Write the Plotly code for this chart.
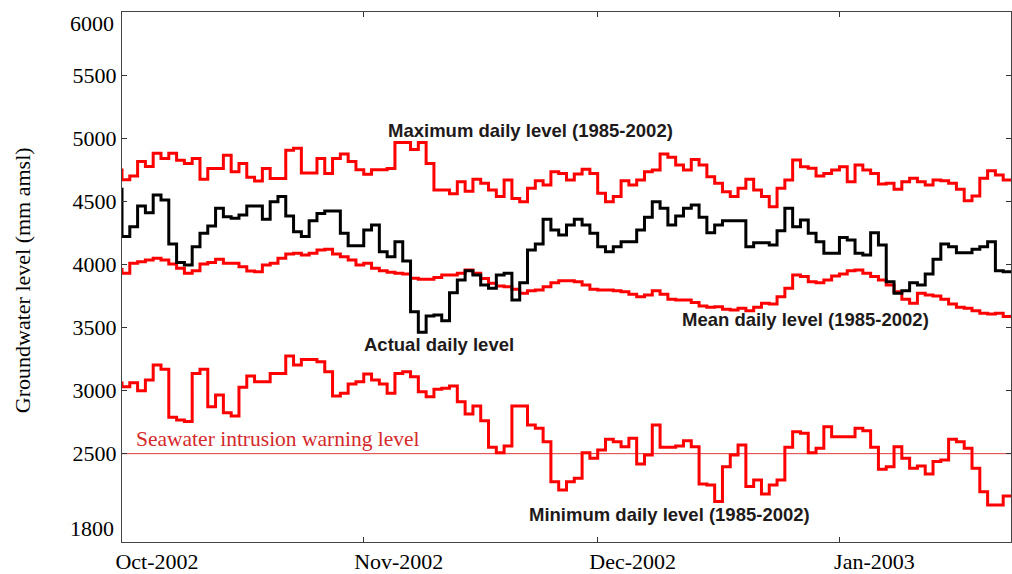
import pandas as pd
import plotly.graph_objects as go

# ---- data (daily values, first value = 30 Sep 2002) ----
start_date = "2002-09-30"
end_date = "2003-01-23"

max_level = [
    4748,
    4670, 4700, 4815, 4775, 4880, 4840, 4880, 4825, 4800, 4840,
    4675, 4760, 4760, 4865, 4735, 4800, 4690, 4660, 4760, 4680,
    4680, 4905, 4920, 4725, 4725, 4840, 4720, 4840, 4875, 4815,
    4750, 4715, 4750, 4750, 4760, 4965, 4965, 4910, 4965, 4800,
    4590, 4590, 4560, 4655, 4580, 4674, 4642, 4589, 4537, 4669,
    4523, 4497, 4603, 4663, 4629, 4735, 4721, 4669, 4716, 4753,
    4721, 4563, 4497, 4537, 4663, 4629, 4669, 4735, 4748, 4874,
    4848, 4787, 4748, 4832, 4787, 4695, 4642, 4576, 4537, 4603,
    4674, 4589, 4537, 4457, 4603, 4669, 4827, 4774, 4761, 4700,
    4721, 4748, 4774, 4655, 4787, 4748, 4721, 4637, 4642, 4595,
    4655, 4682, 4655, 4629, 4669, 4663, 4642, 4595, 4505, 4542,
    4682, 4742, 4708, 4669,
]

actual_level = [
    4595,
    4220, 4299, 4462, 4410, 4550, 4510, 4161, 4014, 3995, 4140,
    4246, 4304, 4444, 4378, 4365, 4391, 4462, 4462, 4357, 4497,
    4537, 4383, 4259, 4220, 4346, 4404, 4423, 4423, 4246, 4148,
    4148, 4272, 4312, 4101, 4061, 4180, 4027, 3625, 3462, 3591,
    3599, 3554, 3776, 3876, 3950, 3916, 3837, 3810, 3916, 3929,
    3718, 3855, 4114, 4162, 4357, 4272, 4233, 4312, 4357, 4312,
    4246, 4140, 4101, 4140, 4180, 4180, 4272, 4373, 4497, 4444,
    4312, 4383, 4444, 4470, 4373, 4251, 4312, 4346, 4346, 4346,
    4140, 4172, 4172, 4154, 4267, 4444, 4299, 4352, 4246, 4180,
    4088, 4088, 4214, 4193, 4088, 4074, 4251, 4154, 3863, 3771,
    3792, 3855, 3837, 3924, 4040, 4162, 4140, 4093, 4093, 4119,
    4140, 4180, 3950, 3942,
]

mean_level = [
    3960,
    3929, 4008, 4021, 4035, 4048, 4035, 4003, 3969, 3929, 3950,
    4003, 4014, 4040, 4008, 4008, 3982, 3948, 3942, 3995, 4008,
    4048, 4082, 4088, 4074, 4088, 4114, 4119, 4082, 4061, 4035,
    3995, 4008, 3969, 3950, 3937, 3929, 3924, 3890, 3882, 3882,
    3897, 3916, 3916, 3929, 3956, 3929, 3889, 3850, 3829, 3823,
    3802, 3771, 3792, 3797, 3823, 3855, 3871, 3871, 3863, 3837,
    3802, 3797, 3797, 3792, 3784, 3763, 3744, 3757, 3792, 3763,
    3723, 3718, 3718, 3697, 3670, 3660, 3665, 3644, 3639, 3652,
    3633, 3660, 3691, 3686, 3744, 3810, 3916, 3903, 3863, 3855,
    3876, 3908, 3924, 3950, 3956, 3929, 3903, 3876, 3837, 3784,
    3723, 3691, 3771, 3757, 3749, 3723, 3686, 3660, 3652, 3633,
    3612, 3607, 3612, 3586,
]

min_level = [
    3060,
    3031, 3062, 2999, 3084, 3203, 3168, 2788, 2767, 2754, 3136,
    3168, 2872, 2965, 2825, 2798, 3026, 3115, 3070, 3070, 3136,
    3136, 3274, 3203, 3247, 3247, 3229, 3150, 2957, 2978, 3052,
    3070, 3131, 3084, 3052, 2978, 3136, 3150, 3110, 2991, 2952,
    3010, 3018, 3036, 2912, 2814, 2878, 2761, 2550, 2508, 2561,
    2878, 2878, 2727, 2701, 2595, 2278, 2212, 2278, 2305, 2508,
    2463, 2529, 2614, 2595, 2555, 2622, 2418, 2489, 2727, 2550,
    2550, 2561, 2603, 2555, 2260, 2252, 2120, 2397, 2489, 2569,
    2239, 2291, 2180, 2252, 2291, 2550, 2674, 2661, 2508, 2542,
    2714, 2635, 2635, 2635, 2701, 2682, 2550, 2376, 2397, 2555,
    2463, 2384, 2402, 2339, 2437, 2450, 2614, 2595, 2542, 2384,
    2199, 2093, 2093, 2165,
]

warning_level = 2500

month_ticks = ["2002-10-01", "2002-11-01", "2002-12-01", "2003-01-01"]
month_labels = ["Oct-2002", "Nov-2002", "Dec-2002", "Jan-2003"]
y_ticks = [2500, 3000, 3500, 4000, 4500, 5000, 5500]
y_labels = ["2500", "3000", "3500", "4000", "4500", "5000", "5500"]
y_range = [1800, 6000]
y_end_labels = ["1800", "6000"]


def stairs(values):
    dates = list(pd.date_range(start_date, periods=len(values), freq="D"))
    dates.append(pd.Timestamp(end_date))
    return dates, list(values) + [values[-1]]


fig = go.Figure()
series = [
    (max_level, "#ff0000", "Maximum"),
    (mean_level, "#ff0000", "Mean"),
    (min_level, "#ff0000", "Minimum"),
    (actual_level, "#000000", "Actual"),
]
for vals, col, name in series:
    xs, ys = stairs(vals)
    fig.add_trace(go.Scatter(x=xs, y=ys, mode="lines", line_shape="hv",
                             line=dict(color=col, width=3), name=name,
                             showlegend=False, hoverinfo="skip"))

fig.add_shape(type="line", xref="paper", x0=0, x1=1, yref="y",
              y0=warning_level, y1=warning_level,
              line=dict(color="#e03a3a", width=1), layer="below")

serif = "Liberation Serif, Times New Roman, serif"
sans = "Liberation Sans, Arial, sans-serif"
lab_col = "#1e1a1a"

ann = [
    dict(text="<b>Maximum daily level (1985-2002)</b>", x=0.460, y=0.777),
    dict(text="<b>Actual daily level</b>", x=0.3566, y=0.3717),
    dict(text="<b>Mean daily level (1985-2002)</b>", x=0.7694, y=0.4189),
    dict(text="<b>Minimum daily level (1985-2002)</b>", x=0.6164, y=0.0528),
]
for a in ann:
    fig.add_annotation(xref="paper", yref="paper", xanchor="center",
                       yanchor="middle", showarrow=False,
                       font=dict(family=sans, size=18.5, color=lab_col), **a)

fig.add_annotation(text="Seawater intrusion warning level", xref="paper",
                   x=0.0135, xanchor="left", yref="y", y=warning_level,
                   yanchor="middle", yshift=15, showarrow=False,
                   font=dict(family=serif, size=21.5, color="#d42a2a"))

# end labels of the y axis (drawn slightly inside the frame as in the source)
fig.add_annotation(text=y_end_labels[0], xref="paper", x=0, xanchor="right",
                   xshift=-6, yref="y", y=y_range[0], yanchor="middle",
                   yshift=14, showarrow=False,
                   font=dict(family=serif, size=22, color="#000"))
fig.add_annotation(text=y_end_labels[1], xref="paper", x=0, xanchor="right",
                   xshift=-6, yref="y", y=y_range[1], yanchor="middle",
                   yshift=-11, showarrow=False,
                   font=dict(family=serif, size=22, color="#000"))

fig.add_annotation(text="Groundwater level (mm amsl)", xref="paper",
                   x=-0.1125, xanchor="center", yref="paper", y=0.494,
                   yanchor="middle", textangle=-90, showarrow=False,
                   font=dict(family=serif, size=22, color="#000"))

fig.update_layout(
    width=1012, height=574,
    margin=dict(l=122, r=1, t=12, b=32),
    paper_bgcolor="white", plot_bgcolor="white",
    hovermode=False,
    xaxis=dict(type="date", range=["2002-10-01", end_date],
               tickvals=month_ticks, ticktext=month_labels,
               ticks="inside", ticklen=5, tickcolor="#333",
               showline=True, linecolor="#444", linewidth=1, mirror="ticks",
               showgrid=False, zeroline=False, ticklabelshift=35,
               tickfont=dict(family=serif, size=22, color="#000"),
               automargin=False),
    yaxis=dict(range=y_range, tickvals=y_ticks, ticktext=y_labels,
               ticks="inside", ticklen=5, tickcolor="#333",
               showline=True, linecolor="#444", linewidth=1, mirror="ticks",
               showgrid=False, zeroline=False,
               tickfont=dict(family=serif, size=22, color="#000"),
               automargin=False),
)

fig.write_html(
    "out.html",
    config={"displayModeBar": False, "staticPlot": True},
    post_script="document.body.style.margin='0';"
                "document.body.style.overflow='hidden';",
)
